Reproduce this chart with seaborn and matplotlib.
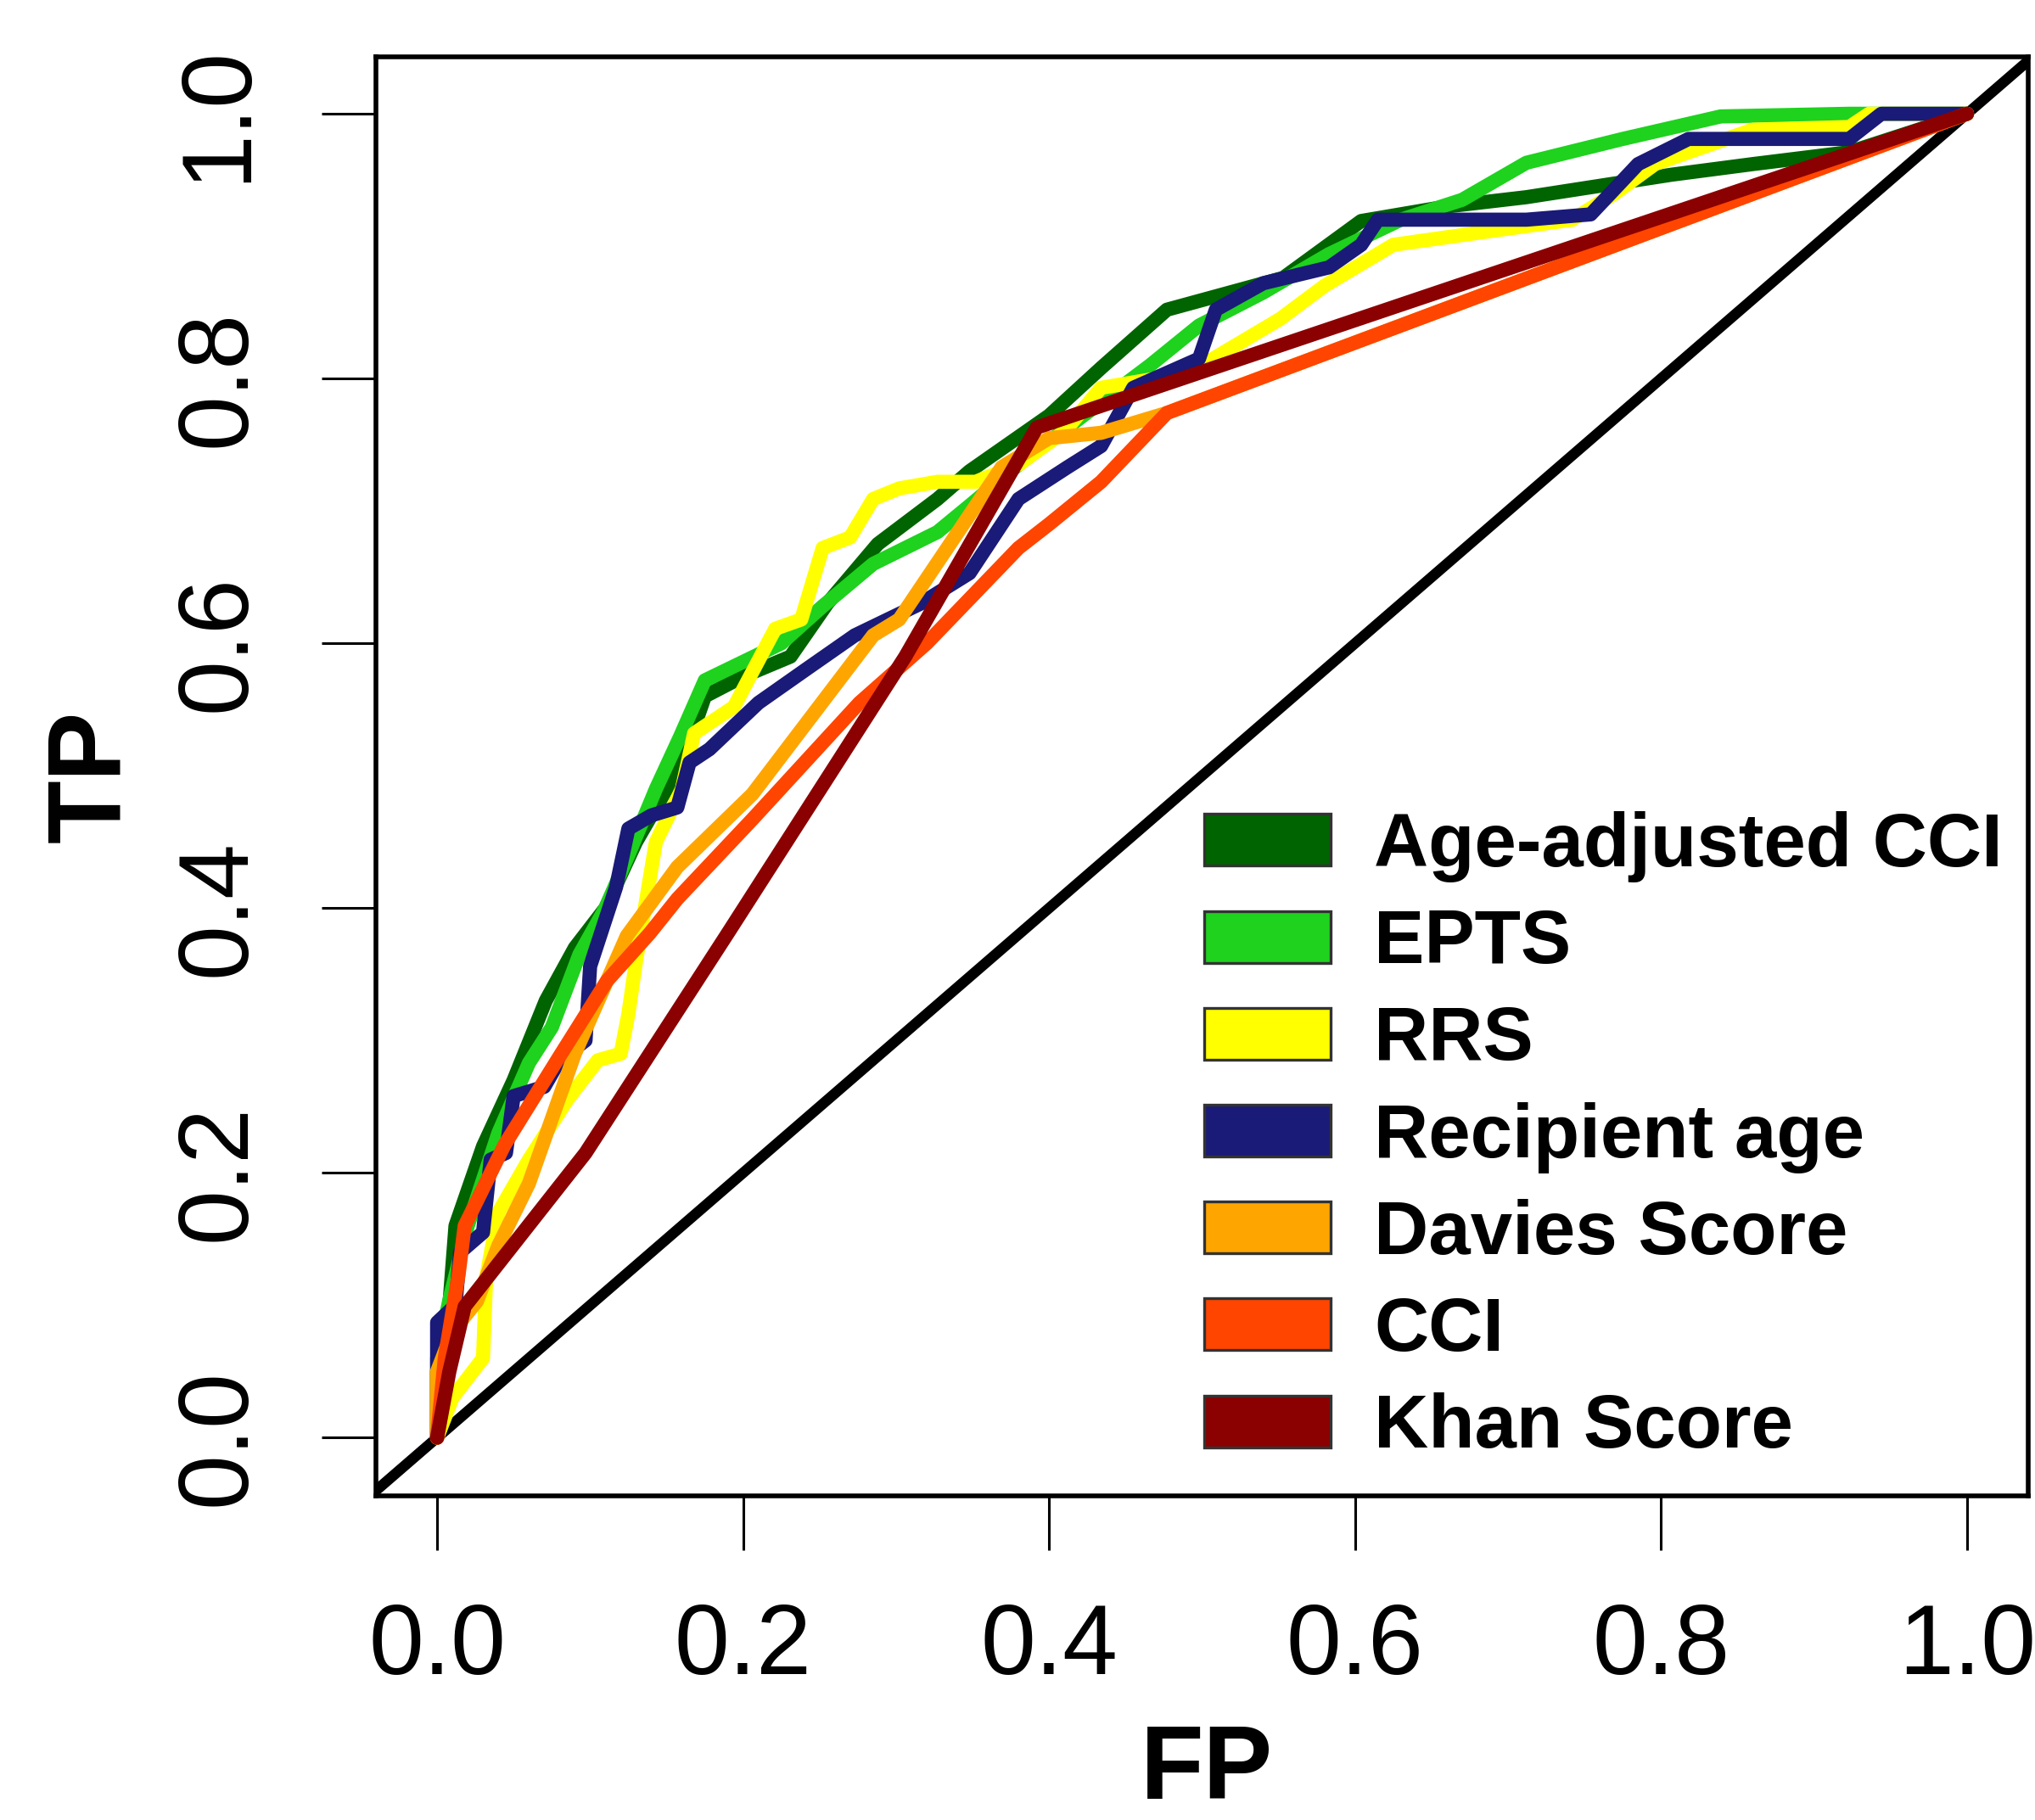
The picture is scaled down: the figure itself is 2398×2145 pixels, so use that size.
import matplotlib
matplotlib.use("Agg")
import matplotlib.pyplot as plt
import seaborn as sns
from matplotlib.patches import Patch

# ---------------- data ----------------
labels = ["Age-adjusted CCI", "EPTS", "RRS", "Recipient age",
          "Davies Score", "CCI", "Khan Score"]
colors = ["#006400", "#1ED21E", "#FFFF00", "#1A1A78",
          "#FFA500", "#FF4500", "#8B0000"]

age_cci_fp = [0, 0.0, 0.008, 0.012, 0.03, 0.05, 0.071, 0.09, 0.11, 0.13, 0.16, 0.175, 0.2,
              0.231, 0.255, 0.288, 0.327, 0.348, 0.40, 0.434, 0.477, 0.553, 0.604, 0.66,
              0.712, 0.807, 0.86, 0.923, 0.987, 1.0]
age_cci_tp = [0, 0.05, 0.10, 0.16, 0.22, 0.27, 0.33, 0.37, 0.40, 0.45, 0.51, 0.56, 0.575,
              0.59, 0.63, 0.675, 0.709, 0.73, 0.772, 0.808, 0.852, 0.876, 0.919, 0.93,
              0.937, 0.954, 0.962, 0.971, 0.995, 1.0]

epts_fp = [0, 0.0, 0.008, 0.02, 0.04, 0.06, 0.075, 0.093, 0.11, 0.125, 0.143, 0.159, 0.175,
           0.2, 0.225, 0.252, 0.285, 0.327, 0.348, 0.38, 0.42, 0.466, 0.498, 0.54, 0.583,
           0.63, 0.67, 0.712, 0.775, 0.839, 0.923, 1.0]
epts_tp = [0, 0.06, 0.104, 0.16, 0.23, 0.283, 0.31, 0.365, 0.40, 0.44, 0.49, 0.53, 0.572,
           0.586, 0.60, 0.628, 0.66, 0.684, 0.704, 0.735, 0.77, 0.81, 0.84, 0.865, 0.894,
           0.92, 0.935, 0.963, 0.981, 0.998, 1.0, 1.0]

rrs_fp = [0, 0.01, 0.03, 0.032, 0.04, 0.06, 0.085, 0.105, 0.12, 0.125, 0.13, 0.143, 0.16,
          0.168, 0.194, 0.221, 0.238, 0.252, 0.27, 0.285, 0.302, 0.327, 0.352, 0.38, 0.41,
          0.434, 0.47, 0.50, 0.551, 0.58, 0.625, 0.68, 0.742, 0.77, 0.796, 0.86, 0.923,
          0.936, 1.0]
rrs_tp = [0, 0.03, 0.06, 0.12, 0.17, 0.21, 0.255, 0.285, 0.29, 0.32, 0.36, 0.45, 0.49,
          0.532, 0.552, 0.611, 0.618, 0.672, 0.68, 0.709, 0.717, 0.722, 0.722, 0.735, 0.76,
          0.793, 0.80, 0.81, 0.845, 0.87, 0.901, 0.91, 0.92, 0.94, 0.962, 0.988, 0.99,
          1.0, 1.0]

rec_age_fp = [0, 0.0, 0.012, 0.015, 0.03, 0.035, 0.045, 0.05, 0.07, 0.08, 0.097, 0.10,
              0.117, 0.125, 0.14, 0.157, 0.165, 0.178, 0.21, 0.242, 0.273, 0.316, 0.348,
              0.38, 0.412, 0.434, 0.455, 0.498, 0.509, 0.540, 0.583, 0.604, 0.615, 0.668,
              0.712, 0.754, 0.785, 0.818, 0.86, 0.923, 0.944, 0.987, 1.0]
rec_age_tp = [0, 0.087, 0.10, 0.14, 0.155, 0.21, 0.215, 0.258, 0.265, 0.285, 0.30, 0.356,
              0.416, 0.46, 0.47, 0.476, 0.51, 0.52, 0.555, 0.581, 0.606, 0.630, 0.653,
              0.709, 0.733, 0.749, 0.793, 0.815, 0.852, 0.872, 0.884, 0.901, 0.920, 0.920,
              0.920, 0.924, 0.962, 0.981, 0.981, 0.981, 1.0, 1.0, 1.0]

davies_fp = [0, 0.0, 0.01, 0.026, 0.04, 0.06, 0.09, 0.124, 0.157, 0.206, 0.285, 0.302,
             0.369, 0.40, 0.434, 0.477, 1.0]
davies_tp = [0, 0.05, 0.08, 0.103, 0.145, 0.192, 0.29, 0.379, 0.431, 0.486, 0.606, 0.618,
             0.733, 0.755, 0.759, 0.774, 1.0]

cci_fp = [0, 0.005, 0.014, 0.018, 0.044, 0.08, 0.111, 0.139, 0.157, 0.206, 0.276, 0.32,
          0.38, 0.40, 0.434, 0.477, 1.0]
cci_tp = [0, 0.06, 0.123, 0.16, 0.221, 0.288, 0.345, 0.381, 0.407, 0.467, 0.555, 0.60,
          0.672, 0.69, 0.722, 0.774, 1.0]

khan_fp = [0, 0.008, 0.018, 0.097, 0.19, 0.306, 0.392, 1.0]
khan_tp = [0, 0.05, 0.099, 0.215, 0.381, 0.59, 0.763, 1.0]

series_fp = [age_cci_fp, epts_fp, rrs_fp, rec_age_fp, davies_fp, cci_fp, khan_fp]
series_tp = [age_cci_tp, epts_tp, rrs_tp, rec_age_tp, davies_tp, cci_tp, khan_tp]

x_ticks = [0.0, 0.2, 0.4, 0.6, 0.8, 1.0]
y_ticks = [0.0, 0.2, 0.4, 0.6, 0.8, 1.0]
tick_labels = ["0.0", "0.2", "0.4", "0.6", "0.8", "1.0"]

# ---------------- styling ----------------
sns.set_style("white")
plt.rcParams["font.family"] = ["Liberation Sans", "DejaVu Sans"]
plt.rcParams["text.color"] = "black"
plt.rcParams["axes.labelcolor"] = "black"
plt.rcParams["xtick.color"] = "black"
plt.rcParams["ytick.color"] = "black"

DPI = 200
fig = plt.figure(figsize=(2398 / DPI, 2145 / DPI), dpi=DPI)
ax = fig.add_axes([443 / 2398, 1 - 1763 / 2145, (2390 - 443) / 2398, (1763 - 67) / 2145])

ax.axline((0, 0), slope=1, color="black", lw=4.5, zorder=1)

for fp, tp, col in zip(series_fp, series_tp, colors):
    sns.lineplot(x=fp, y=tp, color=col, lw=6.0, estimator=None, sort=False, ax=ax,
                 zorder=2)

ax.set_xlim(-0.04, 1.04)
ax.set_ylim(-0.044, 1.043)
ax.set_xticks(x_ticks)
ax.set_xticklabels(tick_labels)
ax.set_yticks(y_ticks)
ax.set_yticklabels(tick_labels, rotation=90, va="center")

ax.tick_params(axis="both", which="major", direction="out", length=23, width=1.1,
               color="black", labelsize=42, labelcolor="black", bottom=True, left=True)
ax.tick_params(axis="x", pad=22)
ax.tick_params(axis="y", pad=24)

for sp in ax.spines.values():
    sp.set_visible(True)
    sp.set_color("black")
    sp.set_linewidth(2.0)

ax.set_xlabel("FP", fontsize=44, fontweight="bold", color="black")
ax.set_ylabel("TP", fontsize=44, fontweight="bold", color="black")
ax.xaxis.set_label_coords(0.503, -0.158)
ax.yaxis.set_label_coords(-0.142, 0.5)

handles = [Patch(facecolor=c, edgecolor="#333333", linewidth=1.2) for c in colors]
ax.legend(handles, labels, loc="upper left", bbox_to_anchor=(1419 / 2398, 1 - 956 / 2145),
          bbox_transform=fig.transFigure, frameon=False, borderpad=0, borderaxespad=0,
          handlelength=1.68, handleheight=0.68, handletextpad=0.57, labelspacing=0.34,
          labelcolor="black", prop={"size": 32, "weight": "bold"})

fig.savefig("out.png", dpi=DPI)
